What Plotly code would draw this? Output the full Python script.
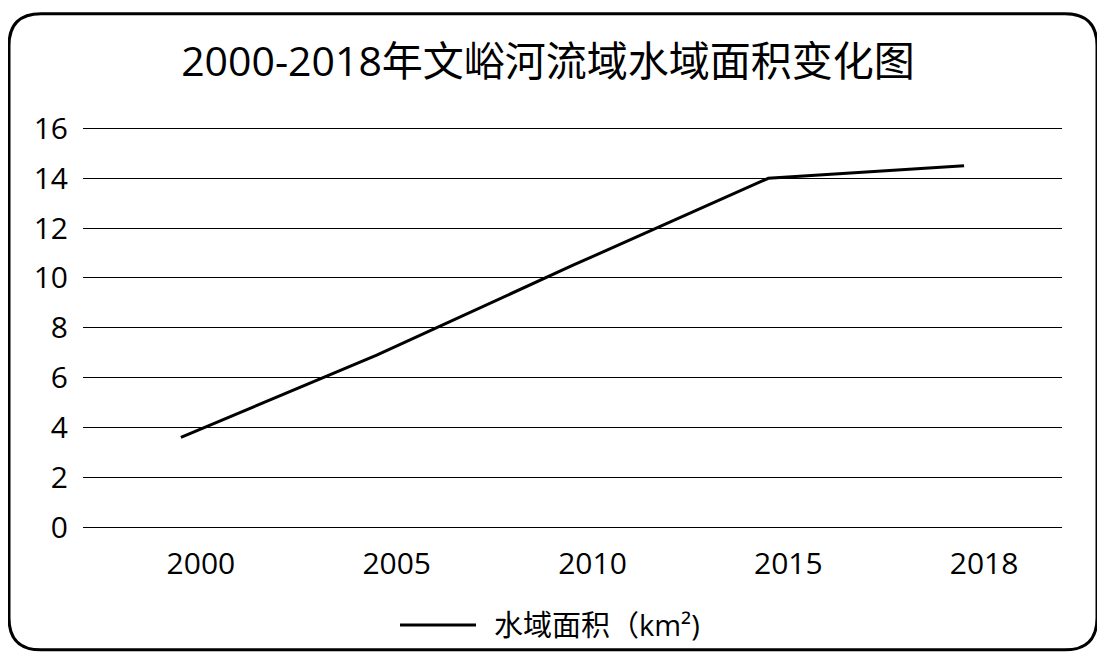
import plotly.graph_objects as go

# Data
years = ["2000", "2005", "2010", "2015", "2018"]
water_area = [3.6, 6.9, 10.5, 14.0, 14.5]
series_name = "水域面积（km²)"
title_text = "2000-2018年文峪河流域水域面积变化图"

W, H = 1105, 653
OFF = 8  # page body margin offset
ML, MR = 83 - OFF, W - (1062 - OFF)
Y16, Y0 = 128 - OFF, 527 - OFF
YMAX = 16.1
unit = (Y0 - Y16) / 16.0
MT = Y0 - YMAX * unit
MB = H - Y0
PW, PH = W - ML - MR, H - MT - MB

def px(x):
    return (x - OFF - ML) / PW

def py(y):
    return 1 - (y - OFF - MT) / PH

font_family = "Open Sans, Noto Sans CJK SC, sans-serif"

fig = go.Figure()
fig.add_trace(go.Scatter(
    x=years, y=water_area, mode="lines", name=series_name,
    line=dict(color="#000000", width=3), showlegend=False,
))

# rounded outer border (reference page coords)
x0, y0, x1, y1, r = 9, 13, 1097, 650, 32
path = (
    f"M {px(x0 + r)},{py(y0)} L {px(x1 - r)},{py(y0)} "
    f"Q {px(x1)},{py(y0)} {px(x1)},{py(y0 + r)} "
    f"L {px(x1)},{py(y1 - r)} Q {px(x1)},{py(y1)} {px(x1 - r)},{py(y1)} "
    f"L {px(x0 + r)},{py(y1)} Q {px(x0)},{py(y1)} {px(x0)},{py(y1 - r)} "
    f"L {px(x0)},{py(y0 + r)} Q {px(x0)},{py(y0)} {px(x0 + r)},{py(y0)} Z"
)
fig.add_shape(type="path", path=path, xref="paper", yref="paper",
              line=dict(color="#000000", width=3), layer="above")

# legend (drawn manually to match the long sample line)
fig.add_shape(type="line", xref="paper", yref="paper",
              x0=px(400), x1=px(476), y0=py(625), y1=py(625),
              line=dict(color="#000000", width=3))
fig.add_annotation(text=series_name, xref="paper", yref="paper",
                   x=px(492), y=py(625), xanchor="left", yanchor="middle",
                   showarrow=False, font=dict(size=29, family=font_family))

fig.update_layout(
    width=W, height=H,
    margin=dict(l=ML, r=MR, t=MT, b=MB, pad=0),
    paper_bgcolor="white", plot_bgcolor="white",
    font=dict(family=font_family, color="#000000"),
    title=dict(text=title_text, x=(548 - OFF) / W, xanchor="center",
               y=1 - (62 - OFF) / H, yanchor="middle",
               font=dict(size=41, family=font_family, color="#000000")),
    showlegend=False,
    xaxis=dict(type="category", range=[-0.5, 4.5], showgrid=False,
               showline=False, ticks="", tickfont=dict(size=30),
               ticklabelstandoff=16, ticklabelshift=20, zeroline=False),
    yaxis=dict(range=[0, YMAX], tickvals=[0, 2, 4, 6, 8, 10, 12, 14, 16],
               showgrid=True, gridcolor="#000000",
               gridwidth=1.2, zeroline=True, zerolinecolor="#000000",
               zerolinewidth=1.2, showline=False, ticks="",
               tickfont=dict(size=30), ticklabelstandoff=14),
)

fig.write_html("out.html")
